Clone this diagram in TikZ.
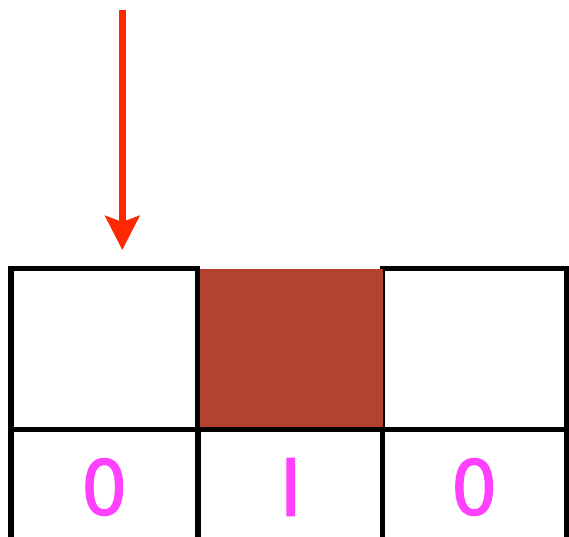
\documentclass[tikz,border=0pt]{standalone}
\usepackage{fontspec}
\newfontfamily\bitfont{TeX Gyre Heros}[FakeBold=1.6]
\usetikzlibrary{arrows.meta}
\definecolor{brickred}{RGB}{179,67,47}
\definecolor{bitpink}{RGB}{255,64,255}
\definecolor{arrowred}{RGB}{255,40,0}
\begin{document}
\begin{tikzpicture}[x=1pt,y=-1pt,
  cell/.style={draw=black,line width=5.2pt,inner sep=0pt,minimum height=161pt},
  bitcell/.style={draw=black,line width=5.2pt,inner sep=0pt,minimum height=115pt,
    text=bitpink,font=\bitfont\fontsize{79}{79}\selectfont},
  marked/.style={fill=brickred,inner sep=0pt,minimum width=182.5pt,minimum height=158pt}]
\useasboundingbox (0,0) rectangle (569,536);
\clip (0,0) rectangle (569,536);
% top row
\node[cell,minimum width=186.5pt] (topleft) at (104.25,349) {};
\node[cell,minimum width=184.2pt] (topright) at (474.4,349) {};
\node[marked] (topmid) at (291.25,348) {};
% bottom row with the bits
\node[bitcell,minimum width=187pt] (bitleft) at (104.5,487) {0};
\node[bitcell,minimum width=184.3pt] (bitmid) at (290.15,487) {I};
\node[bitcell,minimum width=184.2pt] (bitright) at (474.4,487) {0};
% pointer
\coordinate (ptrstart) at (122.3,10);
\coordinate (ptrtip) at (122.3,250);
\draw[arrowred,line width=7pt,-{Stealth[length=34pt,width=34pt,inset=6pt]}] (ptrstart) -- (ptrtip);
\end{tikzpicture}
\end{document}
